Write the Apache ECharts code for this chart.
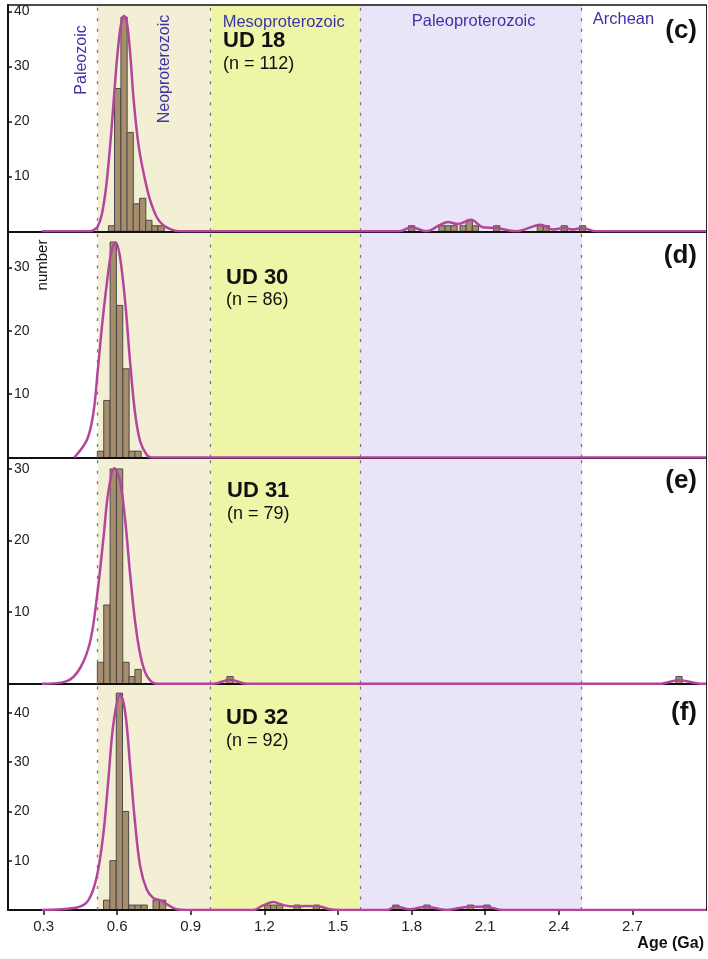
<!DOCTYPE html>
<html><head><meta charset="utf-8">
<script src="https://cdn.jsdelivr.net/npm/echarts@6/dist/echarts.min.js"></script>
<style>html,body{margin:0;padding:0;background:#fff}#c{width:708px;height:959px}</style>
</head><body><div id="c"></div>
<script>
// ---------- data ----------
const xTickValues = [0.3, 0.6, 0.9, 1.2, 1.5, 1.8, 2.1, 2.4, 2.7];
const periodBoundaries = [0.521, 0.985, 1.588, 2.494];
const periodNames = ['Paleozoic', 'Neoproterozoic', 'Mesoproterozoic', 'Paleoproterozoic', 'Archean'];
const binWidth = 0.0255;

const sampleNames = ['UD 18', 'UD 30', 'UD 31', 'UD 32'];
const sampleN = ['(n = 112)', '(n = 86)', '(n = 79)', '(n = 92)'];
const panelLetters = ['(c)', '(d)', '(e)', '(f)'];
const yMax = [41.2, 35.7, 31.6, 45.9];
const yTicks18 = [10, 20, 30, 40];
const yTicks30 = [10, 20, 30];
const yTicks31 = [10, 20, 30];
const yTicks32 = [10, 20, 30, 40];

// histogram bins (bin centre age in Ga) and counts
const ud18BinAge = [0.577, 0.602, 0.628, 0.653, 0.678, 0.704, 0.729, 0.754, 0.779, 1.800, 1.924, 1.949, 1.973, 2.010, 2.035, 2.060, 2.147, 2.325, 2.349, 2.422, 2.497];
const ud18Count  = [1, 26, 39, 18, 5, 6, 2, 1, 1, 1, 1, 1, 1, 1, 2, 1, 1, 1, 1, 1, 1];
const ud30BinAge = [0.532, 0.558, 0.584, 0.610, 0.636, 0.661, 0.685];
const ud30Count  = [1, 9, 34, 24, 14, 1, 1];
const ud31BinAge = [0.532, 0.558, 0.584, 0.610, 0.636, 0.661, 0.685, 1.060, 2.890];
const ud31Count  = [3, 11, 30, 30, 3, 1, 2, 1, 1];
const ud32BinAge = [0.557, 0.583, 0.609, 0.634, 0.660, 0.685, 0.710, 0.759, 0.785, 1.214, 1.238, 1.262, 1.334, 1.412, 1.736, 1.863, 2.040, 2.107];
const ud32Count  = [2, 10, 44, 20, 1, 1, 1, 2, 2, 1, 1, 1, 1, 1, 1, 1, 1, 1];

// probability density curves (age, scaled height)
const ud18KdeAge = [0.293, 0.490, 0.503, 0.520, 0.538, 0.555, 0.571, 0.585, 0.599, 0.612, 0.620, 0.628, 0.640, 0.653, 0.666, 0.680, 0.693, 0.714, 0.734, 0.761, 0.788, 0.822, 0.856, 1.751, 1.799, 1.860, 1.914, 1.948, 1.988, 2.043, 2.090, 2.145, 2.226, 2.328, 2.375, 2.423, 2.456, 2.497, 2.551, 3.0];
const ud18KdeVal = [0, 0, 0.2, 0.8, 3.2, 8.1, 15.4, 23.3, 31.2, 36.7, 38.5, 39.2, 37.9, 32.4, 24.5, 18.2, 14.0, 9.3, 5.7, 2.6, 1.1, 0.3, 0, 0, 0.73, 0, 1.1, 1.7, 1.3, 2.1, 0.73, 0.6, 0, 1.2, 0.3, 0.6, 0.3, 0.6, 0, 0];
const ud30KdeAge = [0.425, 0.477, 0.503, 0.521, 0.538, 0.558, 0.578, 0.595, 0.612, 0.633, 0.653, 0.673, 0.694, 0.721, 0.741, 3.0];
const ud30KdeVal = [0, 2.8, 7.0, 13.8, 20.7, 27.5, 32.8, 33.9, 31.5, 24.4, 14.9, 7.0, 2.5, 0.4, 0, 0];
const ud31KdeAge = [0.293, 0.395, 0.449, 0.490, 0.517, 0.544, 0.564, 0.589, 0.612, 0.633, 0.653, 0.673, 0.694, 0.721, 0.761, 0.992, 1.060, 1.128, 2.809, 2.890, 2.983, 3.0];
const ud31KdeVal = [0, 0.37, 2.2, 5.9, 12.0, 20.3, 26.8, 30.1, 28.2, 22.7, 15.2, 8.7, 4.1, 1.1, 0, 0, 0.56, 0, 0, 0.5, 0, 0];
const ud32KdeAge = [0.293, 0.436, 0.483, 0.517, 0.544, 0.564, 0.585, 0.612, 0.633, 0.653, 0.673, 0.694, 0.721, 0.748, 0.775, 0.802, 0.843, 0.883, 1.154, 1.195, 1.236, 1.276, 1.317, 1.372, 1.426, 1.466, 1.507, 1.697, 1.738, 1.792, 1.860, 1.941, 2.036, 2.104, 2.171, 3.0];
const ud32KdeVal = [0, 0.5, 2.0, 6.8, 15.6, 26.4, 37.9, 43.7, 40.0, 29.1, 17.6, 8.8, 4.1, 2.4, 2.0, 1.2, 0.14, 0, 0, 0.95, 1.6, 1.0, 0.7, 0.8, 0.7, 0.14, 0, 0, 0.68, 0.14, 0.68, 0, 0.68, 0.68, 0, 0];

// ---------- layout / style ----------
const X_MIN = 0.155, X_MAX = 3.0;
const GRID_TOP = 5, GRID_H = 226.25, GRID_LEFT = 8, GRID_RIGHT = 2;
const FONT = 'Liberation Sans, Arial, Helvetica, sans-serif';
const BAR_FILL = '#a68d6b', BAR_STROKE = '#4a4a4a', KDE_COLOR = '#b4449c';
const PERIOD_COLOR = '#3b33a6';
const bandColors = ['#f3efd5', '#eef5a6', '#e9e4f7'];

const panels = [
  {bins: ud18BinAge, counts: ud18Count, kAge: ud18KdeAge, kVal: ud18KdeVal, yTicks: yTicks18},
  {bins: ud30BinAge, counts: ud30Count, kAge: ud30KdeAge, kVal: ud30KdeVal, yTicks: yTicks30},
  {bins: ud31BinAge, counts: ud31Count, kAge: ud31KdeAge, kVal: ud31KdeVal, yTicks: yTicks31},
  {bins: ud32BinAge, counts: ud32Count, kAge: ud32KdeAge, kVal: ud32KdeVal, yTicks: yTicks32}
];

const grid = [], xAxis = [], yAxis = [], series = [];
panels.forEach((p, i) => {
  grid.push({left: GRID_LEFT, right: GRID_RIGHT, top: GRID_TOP + i * GRID_H, height: GRID_H});
  const last = i === panels.length - 1;
  xAxis.push({
    type: 'value', gridIndex: i, min: X_MIN, max: X_MAX, z: 3,
    axisLine: {show: true, onZero: false, lineStyle: {color: '#111', width: 2}},
    axisTick: {show: last, customValues: xTickValues, length: 5, lineStyle: {color: '#111', width: 1.5}},
    axisLabel: {show: last, customValues: xTickValues, formatter: v => v.toFixed(1), fontSize: 15, color: '#222', margin: 9, fontFamily: FONT},
    splitLine: {show: false}
  });
  yAxis.push({
    type: 'value', gridIndex: i, min: 0, max: yMax[i], z: 3,
    axisLine: {show: true, onZero: false, lineStyle: {color: '#111', width: 2}},
    axisTick: {show: true, inside: true, length: 4, customValues: p.yTicks, lineStyle: {color: '#111', width: 1.5}},
    axisLabel: {show: true, inside: true, customValues: p.yTicks, margin: 6, fontSize: 14, color: '#222', fontFamily: FONT},
    splitLine: {show: false}
  });
  series.push({
    type: 'custom', xAxisIndex: i, yAxisIndex: i, z: 2, silent: true,
    data: p.bins.map((a, k) => [a, p.counts[k]]),
    encode: {x: 0, y: 1},
    renderItem: (params, api) => {
      const a = api.value(0), c = api.value(1);
      const p0 = api.coord([a - binWidth / 2, 0]);
      const p1 = api.coord([a + binWidth / 2, c]);
      return {type: 'rect', shape: {x: p0[0], y: p1[1], width: p1[0] - p0[0], height: p0[1] - p1[1]},
              style: {fill: BAR_FILL, stroke: BAR_STROKE, lineWidth: 1}};
    }
  });
  series.push({
    type: 'line', xAxisIndex: i, yAxisIndex: i, z: 6, silent: true,
    data: p.kAge.map((a, k) => [a, p.kVal[k]]),
    smooth: 0.35, showSymbol: false, symbol: 'none',
    lineStyle: {color: KDE_COLOR, width: 2.5},
    markArea: {
      silent: true,
      data: [
        [{xAxis: periodBoundaries[0], itemStyle: {color: bandColors[0], opacity: 1, borderWidth: 0}}, {xAxis: periodBoundaries[1]}],
        [{xAxis: periodBoundaries[1], itemStyle: {color: bandColors[1], opacity: 1, borderWidth: 0}}, {xAxis: periodBoundaries[2]}],
        [{xAxis: periodBoundaries[2], itemStyle: {color: bandColors[2], opacity: 1, borderWidth: 0}}, {xAxis: periodBoundaries[3]}]
      ],
      label: {show: false}
    },
    markLine: {
      silent: true, symbol: 'none', label: {show: false}, animation: false,
      lineStyle: {color: '#777', type: [3, 7.5], width: 1.3},
      data: periodBoundaries.map(b => ({xAxis: b}))
    }
  });
});
// frame: top line of first panel and right border of every panel
xAxis.push({type: 'value', gridIndex: 0, position: 'top', min: X_MIN, max: X_MAX, z: 3,
  axisLine: {show: true, onZero: false, lineStyle: {color: '#111', width: 1.5}},
  axisTick: {show: false}, axisLabel: {show: false}, splitLine: {show: false}});
panels.forEach((p, i) => {
  yAxis.push({type: 'value', gridIndex: i, position: 'right', min: 0, max: yMax[i], z: 3,
    axisLine: {show: true, onZero: false, lineStyle: {color: '#222', width: 1}},
    axisTick: {show: false}, axisLabel: {show: false}, splitLine: {show: false}});
});

// text
const graphic = [];
const sampleX = [223, 226, 227, 226];
const sampleY = [41, 277.5, 490.5, 717.5];
const nY = [64, 300, 514, 741.5];
const letterY = [31, 256, 481, 713];
sampleNames.forEach((s, i) => {
  graphic.push({type: 'text', x: sampleX[i], y: sampleY[i], z: 10, style: {text: s, font: 'bold 22px ' + FONT, fill: '#111', align: 'left', verticalAlign: 'middle'}});
  graphic.push({type: 'text', x: sampleX[i], y: nY[i], z: 10, style: {text: sampleN[i], font: '18px ' + FONT, fill: '#111', align: 'left', verticalAlign: 'middle'}});
  graphic.push({type: 'text', x: 697, y: letterY[i], z: 10, style: {text: panelLetters[i], font: 'bold 26px ' + FONT, fill: '#111', align: 'right', verticalAlign: 'middle'}});
});
graphic.push({type: 'text', x: 81.7, y: 60, rotation: Math.PI / 2, z: 10, style: {text: periodNames[0], font: '16px ' + FONT, fill: PERIOD_COLOR, align: 'center', verticalAlign: 'middle'}});
graphic.push({type: 'text', x: 165, y: 69, rotation: Math.PI / 2, z: 10, style: {text: periodNames[1], font: '16px ' + FONT, fill: PERIOD_COLOR, align: 'center', verticalAlign: 'middle'}});
graphic.push({type: 'text', x: 222.7, y: 22, z: 10, style: {text: periodNames[2], font: '16.5px ' + FONT, fill: PERIOD_COLOR, align: 'left', verticalAlign: 'middle'}});
graphic.push({type: 'text', x: 411.7, y: 21, z: 10, style: {text: periodNames[3], font: '16.5px ' + FONT, fill: PERIOD_COLOR, align: 'left', verticalAlign: 'middle'}});
graphic.push({type: 'text', x: 592.7, y: 19.5, z: 10, style: {text: periodNames[4], font: '16.5px ' + FONT, fill: PERIOD_COLOR, align: 'left', verticalAlign: 'middle'}});
graphic.push({type: 'text', x: 43, y: 265, rotation: Math.PI / 2, z: 10, style: {text: 'number', font: '15px ' + FONT, fill: '#111', align: 'center', verticalAlign: 'middle'}});
graphic.push({type: 'text', x: 704, y: 944, z: 10, style: {text: 'Age (Ga)', font: 'bold 16px ' + FONT, fill: '#111', align: 'right', verticalAlign: 'middle'}});

const chart = echarts.init(document.getElementById('c'), null, {renderer: 'canvas'});
chart.setOption({animation: false, grid, xAxis, yAxis, series, graphic});
</script></body></html>
